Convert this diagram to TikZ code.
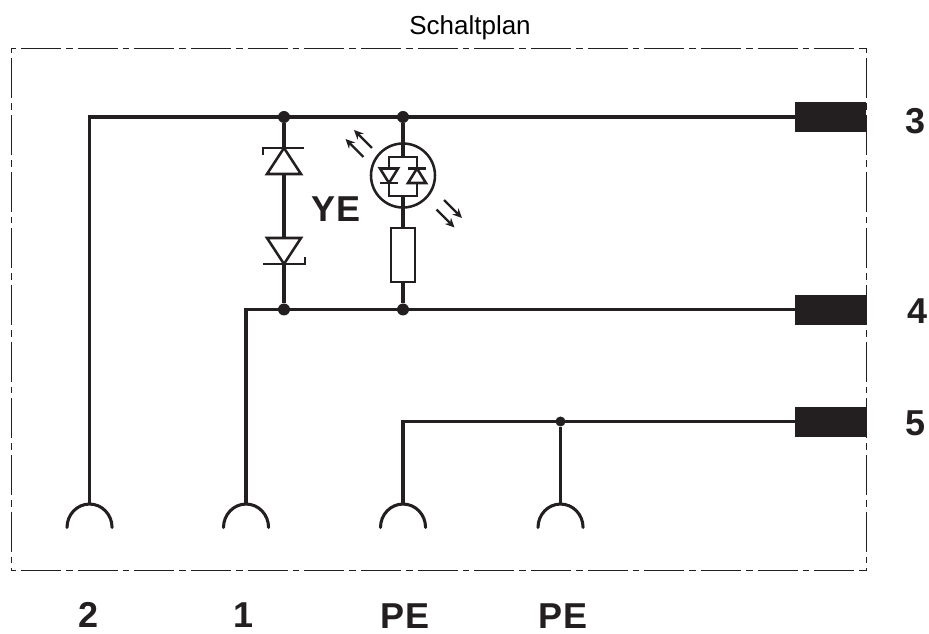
\documentclass[tikz,border=0pt]{standalone}
\usepackage{fontspec}
\setmainfont{Liberation Sans}
\usetikzlibrary{arrows.meta}
\definecolor{ink}{HTML}{231F20}
\tikzset{
  wire/.style={draw=ink,line width=2.6pt,line cap=butt,line join=miter},
  thin wire/.style={draw=ink,line width=2.3pt,line join=miter},
  sym/.style={draw=ink,line width=1.9pt,line join=miter},
  frame/.style={draw=ink,line width=0.75pt,dash pattern=on 30pt off 3.75pt on 5pt off 3.75pt,dash phase=35pt},
  junction/.style={circle,fill=ink,inner sep=0pt,minimum size=9pt},
  small junction/.style={circle,fill=ink,inner sep=0pt,minimum size=7.5pt},
  terminal/.style={rectangle,fill=ink,inner sep=0pt,minimum width=53.25pt,minimum height=22.5pt},
  lbl/.style={font=\fontsize{27}{27}\selectfont\bfseries,text=ink,inner sep=0pt},
  title/.style={font=\fontsize{19.5}{20}\selectfont,text=black,inner sep=0pt},
  resistor/.style={rectangle,draw=ink,line width=1.9pt,fill=white,inner sep=0pt,minimum width=18pt,minimum height=40.5pt},
  ledring/.style={circle,draw=ink,line width=1.9pt,inner sep=0pt,minimum size=48pt},
  socket/.style={draw=ink,line width=2.3pt,line cap=round},
  ray/.style={draw=ink,line width=1.8pt,-{Stealth[length=7pt,width=6.5pt]}}
}
\begin{document}
\begin{tikzpicture}[x=0.75pt,y=-0.75pt]
\useasboundingbox (0,0) rectangle (929,634);
\coordinate (tl) at (11,48.3);
\coordinate (tr) at (866,48.3);
\coordinate (bl) at (11,571);
\coordinate (br) at (866,571);
\draw[frame] (tl) -- (tr);
\draw[frame] (tl) -- (bl);
\draw[frame] (tr) -- (br);
\draw[frame] (bl) -- (br);
\node[title] (ttl) at (470,28) {Schaltplan};

% terminals
\node[terminal] (t3) at (830.5,117) {};
\node[terminal] (t4) at (830.5,310) {};
\node[terminal] (t5) at (830.5,422) {};
% junctions
\node[junction] (j1) at (284,117) {};
\node[junction] (j2) at (403,117) {};
\node[junction] (j3) at (284,309.5) {};
\node[junction] (j4) at (403,309.5) {};
\node[small junction] (j5) at (560.5,421.5) {};
% socket tops
\coordinate (s2) at (89.5,504);
\coordinate (s1) at (246,504);
\coordinate (s3) at (403,504);
\coordinate (s4) at (560.5,504);
% wires
\draw[wire] (s2) -- (89.5,117) -- (830,117);
\draw[wire] (s1) -- (246,309.5) -- (830,309.5);
\draw[thin wire] (s3) -- (403,421.5) -- (830,421.5);
\draw[thin wire] (j5) -- (s4);
% sockets
\foreach \c in {s2,s1,s3,s4}{
  \draw[socket] (\c) ++(-22.5,23.5) arc[start angle=180,end angle=0,x radius=16.9pt,y radius=17.6pt];
}
% Z-diodes
\draw[wire,line width=2.4pt] (j1) -- (j3);
\draw[sym,fill=white] (267,174) -- (301,174) -- (284,148) -- cycle;
\draw[sym] (263,155) -- (263,148) -- (304,148);
\draw[sym,fill=white] (267,238) -- (301,238) -- (284,264) -- cycle;
\draw[sym] (263,264) -- (305,264) -- (305,257);
\node[lbl] (ye) at (336,209) {YE};
% LED branch
\node[ledring] (led) at (403,175.5) {};
\node[resistor] (r) at (403,255) {};
\draw[wire,line width=2.4pt] (j2) -- (403,157);
\draw[wire,line width=2.4pt] (403,196) -- (r.north);
\draw[wire,line width=2.4pt] (r.south) -- (j4);
\draw[sym] (389,157) rectangle (417,196);
\draw[sym,fill=white] (380,168.5) -- (398,168.5) -- (389,183) -- cycle;
\draw[sym] (380,183) -- (398,183);
\draw[sym,fill=white] (408,183) -- (426,183) -- (417,168.5) -- cycle;
\draw[sym] (408,168.5) -- (426,168.5);
% light rays
\draw[ray] (372,148) -- (354,130);
\draw[ray] (363.5,157) -- (345.5,139);
\draw[ray] (444,200) -- (462,218);
\draw[ray] (436.5,209.5) -- (454.5,227.5);
% labels
\node[lbl] (n3) at (916,121.5) {3};
\node[lbl] (n4) at (918,311) {4};
\node[lbl] (n5) at (915.5,423) {5};
\node[lbl] (n2) at (89,615) {2};
\node[lbl] (n1) at (244,615.5) {1};
\node[lbl] (pe1) at (405,616) {PE};
\node[lbl] (pe2) at (563,616) {PE};
\end{tikzpicture}
\end{document}
